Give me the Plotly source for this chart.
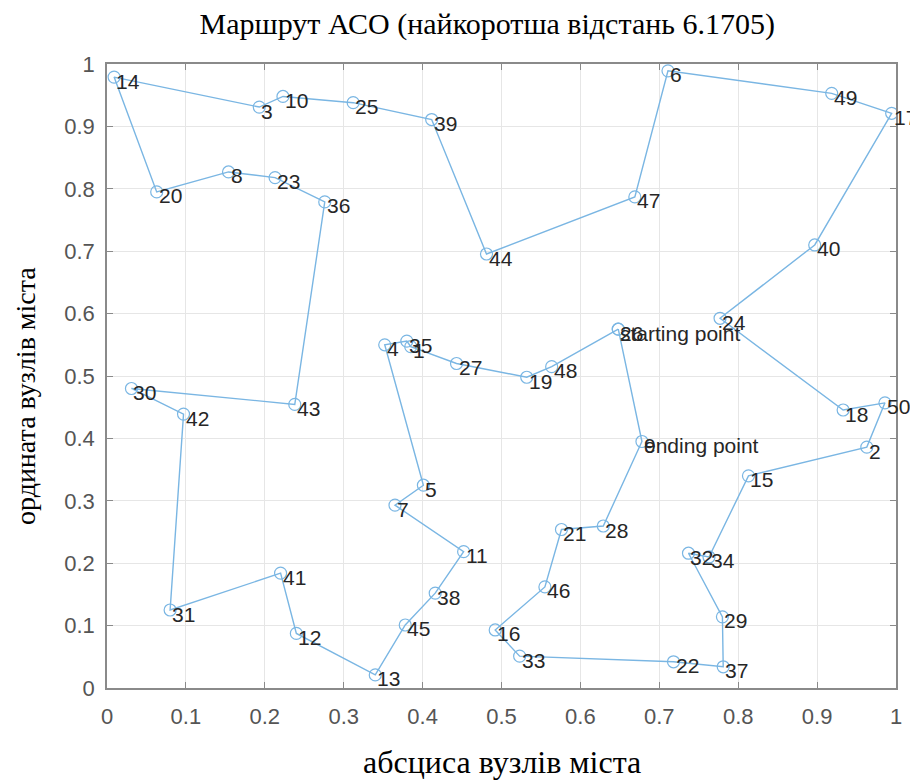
import plotly.graph_objects as go

# Tour order (closed route) and node coordinates
route = [26, 48, 19, 27, 1, 35, 4, 5, 7, 11, 38, 45, 13, 12, 41, 31, 42, 30, 43, 36,
         23, 8, 20, 14, 3, 10, 25, 39, 44, 47, 6, 49, 17, 40, 24, 18, 50, 2, 15, 34,
         32, 29, 37, 22, 33, 16, 46, 21, 28, 9]

node_x = {1: 0.385, 2: 0.963, 3: 0.193, 4: 0.352, 5: 0.401, 6: 0.711, 7: 0.365, 8: 0.154,
          9: 0.678, 10: 0.223, 11: 0.452, 12: 0.240, 13: 0.340, 14: 0.009, 15: 0.813,
          16: 0.492, 17: 0.9945, 18: 0.933, 19: 0.532, 20: 0.063, 21: 0.576, 22: 0.718,
          23: 0.213, 24: 0.777, 25: 0.312, 26: 0.648, 27: 0.443, 28: 0.629, 29: 0.780,
          30: 0.031, 31: 0.080, 32: 0.737, 33: 0.523, 34: 0.763, 35: 0.380, 36: 0.276,
          37: 0.781, 38: 0.416, 39: 0.4115, 40: 0.897, 41: 0.220, 42: 0.097, 43: 0.238,
          44: 0.481, 45: 0.378, 46: 0.555, 47: 0.669, 48: 0.5636, 49: 0.9185, 50: 0.986}
node_y = {1: 0.547, 2: 0.386, 3: 0.931, 4: 0.550, 5: 0.325, 6: 0.989, 7: 0.293, 8: 0.827,
          9: 0.395, 10: 0.948, 11: 0.2185, 12: 0.0875, 13: 0.021, 14: 0.979, 15: 0.340,
          16: 0.093, 17: 0.921, 18: 0.4455, 19: 0.498, 20: 0.795, 21: 0.254, 22: 0.042,
          23: 0.818, 24: 0.5925, 25: 0.938, 26: 0.575, 27: 0.520, 28: 0.2596, 29: 0.114,
          30: 0.480, 31: 0.125, 32: 0.216, 33: 0.051, 34: 0.210, 35: 0.556, 36: 0.779,
          37: 0.034, 38: 0.152, 39: 0.911, 40: 0.710, 41: 0.184, 42: 0.439, 43: 0.4545,
          44: 0.6955, 45: 0.101, 46: 0.162, 47: 0.787, 48: 0.515, 49: 0.953, 50: 0.457}

title_text = "Маршрут АСО (найкоротша відстань 6.1705)"
x_label = "абсциса вузлів міста"
y_label = "ордината вузлів міста"
start_label = "starting point"
end_label = "ending point"
tick_vals = [0, 0.1, 0.2, 0.3, 0.4, 0.5, 0.6, 0.7, 0.8, 0.9, 1]
tick_text = ["0", "0.1", "0.2", "0.3", "0.4", "0.5", "0.6", "0.7", "0.8", "0.9", "1"]

closed = route + [route[0]]
xs = [node_x[n] for n in closed]
ys = [node_y[n] for n in closed]

W, H = 910, 772  # page body has an 8px margin
fig = go.Figure()
fig.add_trace(go.Scatter(
    x=xs, y=ys, mode="lines+markers",
    line=dict(color="#7ab6e3", width=1.4),
    marker=dict(symbol="circle-open", size=12, color="#7ab6e3", line=dict(width=1.2)),
    showlegend=False, hoverinfo="skip"))

lab_font = dict(family="Liberation Sans, Arial, sans-serif", size=21, color="#262626")
ann = []
for n in range(1, 51):
    ann.append(dict(x=node_x[n], y=node_y[n], text=str(n), showarrow=False,
                    xanchor="left", yanchor="middle", xshift=1, yshift=-4,
                    font=lab_font, borderpad=0))
for n, t in [(route[0], start_label), (route[-1], end_label)]:
    ann.append(dict(x=node_x[n], y=node_y[n], text=t, showarrow=False,
                    xanchor="left", yanchor="middle", xshift=1, yshift=-4,
                    font=lab_font, borderpad=0))

serif_family = "Liberation Serif, Times New Roman, serif"
ann.append(dict(xref="paper", yref="paper", x=0.5, y=0, yshift=-74, text=x_label,
                showarrow=False, xanchor="center", yanchor="middle", borderpad=0,
                font=dict(family=serif_family, size=32, color="#000000")))
ann.append(dict(xref="paper", yref="paper", x=0, y=0.5, xshift=-82, yshift=-20, text=y_label,
                showarrow=False, xanchor="center", yanchor="middle", textangle=-90, borderpad=0,
                font=dict(family=serif_family, size=28, color="#000000")))

axis_common = dict(range=[0, 1], tickvals=tick_vals, ticktext=tick_text, showgrid=True,
                   gridcolor="#e6e6e6", gridwidth=1, showline=True, linecolor="#8a8a8a",
                   linewidth=1.5, mirror="ticks", ticks="inside", ticklen=6, tickcolor="#8a8a8a",
                   zeroline=False, automargin=False,
                   tickfont=dict(family="Liberation Sans, Arial, sans-serif", size=22, color="#555555"))

fig.update_layout(
    width=W, height=H,
    margin=dict(l=99, r=22, t=56, b=92),
    paper_bgcolor="white", plot_bgcolor="white",
    title=dict(text=title_text, x=0.482, xref="paper", y=1 - 15 / H, yref="container",
               yanchor="middle", xanchor="center",
               font=dict(family=serif_family, size=30, color="#000000")),
    xaxis=dict(**axis_common, ticklabelstandoff=8),
    yaxis=dict(**axis_common, ticklabelstandoff=6),
    annotations=ann,
)

fig.write_html("out.html")
